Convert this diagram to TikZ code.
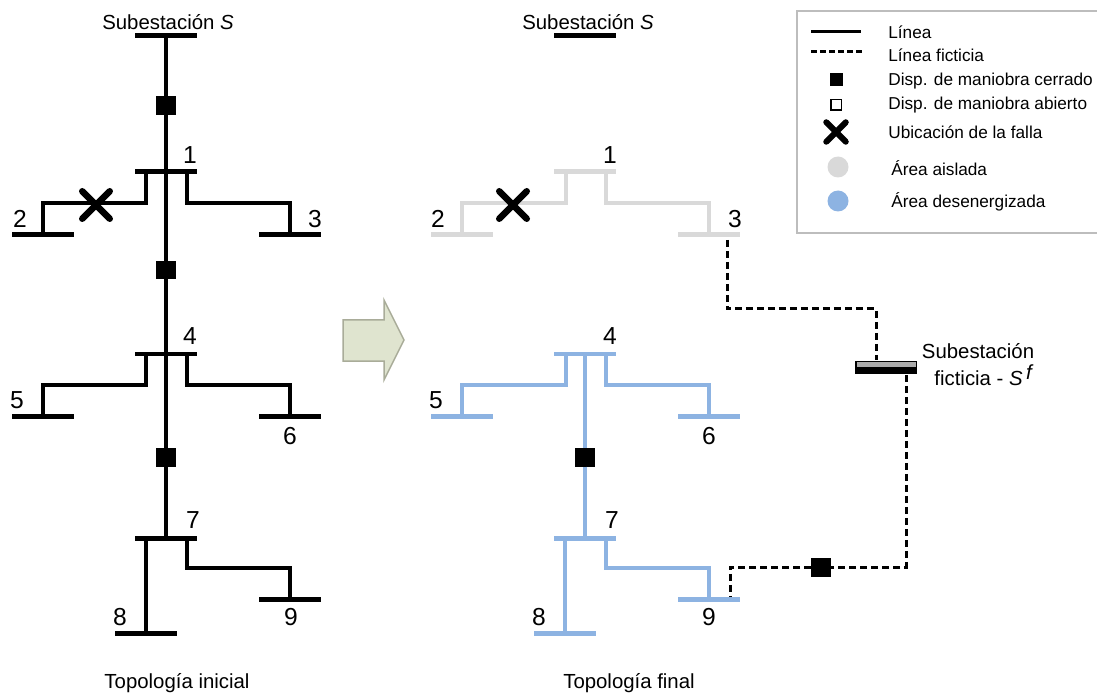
\documentclass[tikz,border=0pt]{standalone}
\usepackage{fontspec}
\setmainfont{Liberation Sans}
\usetikzlibrary{shapes.misc}
\definecolor{blueArea}{HTML}{8DB3E2}
\definecolor{greyArea}{HTML}{D9D9D9}
\definecolor{arrowFill}{HTML}{DFE4CF}
\definecolor{arrowLine}{HTML}{A9AC99}
\definecolor{legLine}{HTML}{BDBDBD}
\tikzset{
  bus/.style={rectangle,fill=black,inner sep=0pt,outer sep=0pt,minimum width=1.24cm,minimum height=0.1cm},
  swclosed/.style={rectangle,fill=black,inner sep=0pt,outer sep=0pt,minimum width=0.4cm,minimum height=0.38cm},
  fault/.style={draw=black,cross out,line width=0.13cm,line cap=round,inner sep=0pt,minimum size=0.42cm},
  wire/.style={line width=0.08cm},
  fict/.style={line width=0.06cm,dash pattern=on 0.14cm off 0.08cm},
  num/.style={font=\fontsize{14pt}{15pt}\selectfont,inner sep=0pt},
  txt/.style={font=\fontsize{11.6pt}{13pt}\selectfont,inner sep=0pt},
  legtxt/.style={font=\fontsize{9.8pt}{11pt}\selectfont,inner sep=0pt,anchor=west}
}
\begin{document}
\begin{tikzpicture}[x=0.02cm,y=-0.02cm]
  \useasboundingbox (0,0) rectangle (1097,695);
  % left network
  \draw
    (166,36) node[bus] (lS){}
    (166,172) node[bus] (l1){}
    (43,235) node[bus] (l2){}
    (290,235) node[bus] (l3){}
    (166,354) node[bus] (l4){}
    (43,416) node[bus] (l5){}
    (290,416) node[bus] (l6){}
    (166,538) node[bus] (l7){}
    (146,633) node[bus] (l8){}
    (290,599) node[bus] (l9){}
    (166,106) node[swclosed] (sw1){}
    (166,270) node[swclosed] (sw2){}
    (166,457) node[swclosed] (sw3){};
  \coordinate (l1a) at (146,172);
  \coordinate (l1b) at (187,172);
  \coordinate (l4a) at (146,354);
  \coordinate (l4b) at (187,354);
  \coordinate (l7a) at (146,538);
  \coordinate (l7b) at (187,538);
  \begin{scope}[wire]
    \draw (lS) to (sw1);
    \draw (sw1) to (l1);
    \draw (l1) to (sw2);
    \draw (sw2) to (l4);
    \draw (l4) to (sw3);
    \draw (sw3) to (l7);
    \draw (l1a) -- ++(0,31) -| (l2);
    \draw (l1b) -- ++(0,31) -| (l3);
    \draw (l4a) -- ++(0,31) -| (l5);
    \draw (l4b) -- ++(0,31) -| (l6);
    \draw (l7a) to (l8);
    \draw (l7b) -- ++(0,30) -| (l9);
  \end{scope}
  \node[fault] (xl) at (96,205) {};
  % right network
  \draw
    (585,36) node[bus] (rS){}
    (585,172) node[bus,fill=greyArea] (r1){}
    (462,235) node[bus,fill=greyArea] (r2){}
    (709,235) node[bus,fill=greyArea] (r3){}
    (585,354) node[bus,fill=blueArea] (r4){}
    (462,416) node[bus,fill=blueArea] (r5){}
    (709,416) node[bus,fill=blueArea] (r6){}
    (585,538) node[bus,fill=blueArea] (r7){}
    (565,633) node[bus,fill=blueArea] (r8){}
    (709,599) node[bus,fill=blueArea] (r9){}
    (585,457) node[swclosed] (sw4){}
    (821,567) node[swclosed] (sw5){}
    (886,367.5) node[bus,minimum height=0.26cm] (rF){}
    (886,364.5) node[bus,fill=black!33,minimum width=1.18cm,minimum height=0.1cm] (rFtop){};
  \coordinate (r1a) at (566,172);
  \coordinate (r1b) at (606,172);
  \coordinate (r4a) at (566,354);
  \coordinate (r4b) at (606,354);
  \coordinate (r7a) at (565,538);
  \coordinate (r7b) at (606,538);
  \coordinate (d3) at (727,240);
  \coordinate (d9) at (730,597);
  \coordinate (f1) at (876,360);
  \coordinate (f2) at (906,375);
  \begin{scope}[wire,greyArea]
    \draw (r1a) -- ++(0,31) -| (r2);
    \draw (r1b) -- ++(0,31) -| (r3);
  \end{scope}
  \begin{scope}[wire,blueArea]
    \draw (r4) to (sw4);
    \draw (sw4) to (r7);
    \draw (r4a) -- ++(0,31) -| (r5);
    \draw (r4b) -- ++(0,31) -| (r6);
    \draw (r7a) to (r8);
    \draw (r7b) -- ++(0,30) -| (r9);
  \end{scope}
  \begin{scope}[fict]
    \draw (d3) -- ++(0,69) -| (f1);
    \draw (f2) |- (sw5);
    \draw (sw5) -| (d9);
  \end{scope}
  \node[fault] (xr) at (513,205) {};
  % numbers
  \node[num] (n1) at (190,155) {1};
  \node[num] (n2) at (20,219) {2};
  \node[num] (n3) at (315,219) {3};
  \node[num] (n4) at (190,336) {4};
  \node[num] (n5) at (17,400) {5};
  \node[num] (n6) at (290,436) {6};
  \node[num] (n7) at (193,520) {7};
  \node[num] (n8) at (120,617) {8};
  \node[num] (n9) at (291,617) {9};
  \node[num] (m1) at (610,155) {1};
  \node[num] (m2) at (438,219) {2};
  \node[num] (m3) at (735,219) {3};
  \node[num] (m4) at (610,336) {4};
  \node[num] (m5) at (436,400) {5};
  \node[num] (m6) at (709,436) {6};
  \node[num] (m7) at (612,520) {7};
  \node[num] (m8) at (539,617) {8};
  \node[num] (m9) at (709,617) {9};
  % texts
  \node[txt] (tS1) at (168,22) {Subestación \textit{S}};
  \node[txt] (tS2) at (588,22) {Subestación \textit{S}};
  \node[txt] (tF1) at (978,351) {Subestación};
  \node[txt] (tF2) at (984,375) {ficticia - \textit{S}\raisebox{0.6ex}{\,\textit{f}}};
  \node[txt] (tI) at (177,683) {Topología inicial};
  \node[txt] (tE) at (629,683) {Topología final};
  % arrow
  \draw[fill=arrowFill,draw=arrowLine,line width=0.03cm] (343,320) -- (384,320) -- (384,300)
    -- (404,340) -- (384,380) -- (384,361) -- (343,361) -- cycle;
  % legend
  \draw[legLine,line width=0.03cm] (1097,11) -- (797,11) -- (797,233) -- (1097,233);
  \coordinate (a1) at (811,32);
  \coordinate (a2) at (861,32);
  \coordinate (a3) at (811,52);
  \coordinate (a4) at (864,52);
  \draw[line width=0.06cm] (a1) to (a2);
  \draw[line width=0.06cm,dash pattern=on 0.11cm off 0.07cm] (a3) to (a4);
  \node[rectangle,fill=black,inner sep=0pt,minimum size=0.26cm] (k1) at (836,80) {};
  \node[rectangle,draw=black,line width=0.03cm,inner sep=0pt,minimum size=0.21cm] (k2) at (836,105) {};
  \node[fault,line width=0.12cm,minimum size=0.27cm] (k3) at (836,132) {};
  \node[circle,fill=greyArea,inner sep=0pt,minimum size=0.42cm] (k4) at (838,167) {};
  \node[circle,fill=blueArea,inner sep=0pt,minimum size=0.42cm] (k5) at (838,201) {};
  \node[legtxt] (e1) at (888,32) {Línea};
  \node[legtxt] (e2) at (888,55) {Línea ficticia};
  \node[legtxt] (e3) at (888,81) {Disp. de maniobra cerrado};
  \node[legtxt] (e4) at (888,105) {Disp. de maniobra abierto};
  \node[legtxt] (e5) at (888,132) {Ubicación de la falla};
  \node[legtxt] (e6) at (891,168) {Área aislada};
  \node[legtxt] (e7) at (891,202) {Área desenergizada};
\end{tikzpicture}
\end{document}
